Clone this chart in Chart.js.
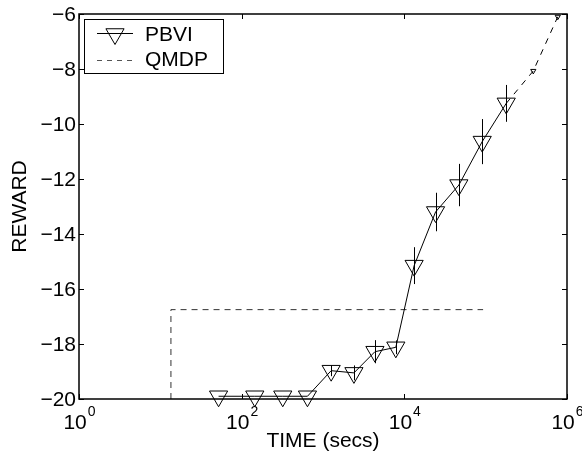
<!DOCTYPE html>
<html>
<head>
<meta charset="utf-8">
<title>PBVI vs QMDP reward</title>
<script src="https://cdn.jsdelivr.net/npm/chart.js@4.4.6/dist/chart.umd.min.js"></script>
<style>
    html, body { margin: 0; padding: 0; background: #fff; }
    #wrap { width: 582px; height: 455px; }
</style>
</head>
<body>
<div id="wrap"><canvas id="myChart"></canvas></div>
<script>
// PBVI (solid line, triangles, error bars)
const pbviTime = [52, 145, 320, 644, 1260, 2400, 4350, 7860, 13200, 24200, 46800, 90700, 179000]
const pbviReward = [-19.9, -19.9, -19.9, -19.9, -18.97, -19.05, -18.28, -18.12, -15.15, -13.2, -12.22, -10.64, -9.25]
const pbviErr = [0, 0, 0, 0, 0.2, 0.27, 0.42, 0.25, 0.67, 0.7, 0.77, 0.82, 0.67]
// dashed continuation of PBVI (small markers)
const pbviExtTime = [179000, 385000, 770000]
const pbviExtReward = [-9.25, -8.07, -6.1]
// QMDP (dashed)
const qmdpTime = [13.5, 13.5, 93000]
const qmdpReward = [-20, -16.75, -16.75]

const xTicks = [1, 100, 10000, 1000000]
const yTicks = [-20, -18, -16, -14, -12, -10, -8, -6]
const legendLabels = ["PBVI", "QMDP"]

const FONT = "'Liberation Sans', Arial, Helvetica, sans-serif"

const toPoints = (xs, ys) => xs.map((x, i) => ({ x: x, y: ys[i] }))

const errorBars = {
    id: "errorBars",
    afterDatasetsDraw(chart) {
        const { ctx, scales: { x, y } } = chart
        ctx.save()
        ctx.strokeStyle = "#000"
        ctx.lineWidth = 1
        pbviTime.forEach((t, i) => {
            if (!pbviErr[i]) return
            const px = Math.round(x.getPixelForValue(t)) + 0.5
            ctx.beginPath()
            ctx.moveTo(px, y.getPixelForValue(pbviReward[i] + pbviErr[i]))
            ctx.lineTo(px, y.getPixelForValue(pbviReward[i] - pbviErr[i]))
            ctx.stroke()
        })
        ctx.restore()
    },
}

const frame = {
    id: "frame",
    afterDraw(chart) {
        const { ctx, chartArea: a, scales: { x, y } } = chart
        ctx.save()
        ctx.strokeStyle = "#000"
        ctx.lineWidth = 1.5
        ctx.strokeRect(a.left, a.top, a.right - a.left, a.bottom - a.top)
        ctx.lineWidth = 1
        const tl = 5
        xTicks.forEach(v => {
            const px = Math.round(x.getPixelForValue(v)) + 0.5
            ctx.beginPath()
            ctx.moveTo(px, a.bottom); ctx.lineTo(px, a.bottom - tl)
            ctx.moveTo(px, a.top); ctx.lineTo(px, a.top + tl)
            ctx.stroke()
        })
        yTicks.forEach(v => {
            const py = Math.round(y.getPixelForValue(v)) + 0.5
            ctx.beginPath()
            ctx.moveTo(a.left, py); ctx.lineTo(a.left + tl, py)
            ctx.moveTo(a.right, py); ctx.lineTo(a.right - tl, py)
            ctx.stroke()
        })

        ctx.fillStyle = "#000"
        // y tick labels, right-aligned against the axis
        ctx.font = "21px " + FONT
        ctx.textAlign = "right"
        ctx.textBaseline = "middle"
        yTicks.forEach(v => {
            ctx.fillText(String(v).replace("-", "\u2212"), a.left - 3, y.getPixelForValue(v) + 1)
        })

        // x tick labels as 10 with a raised exponent
        ctx.textAlign = "left"
        ctx.textBaseline = "alphabetic"
        xTicks.forEach(v => {
            const px = x.getPixelForValue(v)
            const exp = String(Math.round(Math.log10(v)))
            ctx.font = "21px " + FONT
            const wb = ctx.measureText("10").width
            ctx.font = "14px " + FONT
            const we = ctx.measureText(exp).width
            const x0 = px - (wb + we) / 2
            ctx.font = "21px " + FONT
            ctx.fillText("10", x0, a.bottom + 30)
            ctx.font = "14px " + FONT
            ctx.fillText(exp, x0 + wb + 1, a.bottom + 17)
        })

        // legend box
        const bx = 84.5, by = 19.5, bw = 139, bh = 54
        ctx.fillStyle = "#fff"
        ctx.fillRect(bx, by, bw, bh)
        ctx.strokeRect(bx, by, bw, bh)
        ctx.beginPath()
        ctx.moveTo(97, 33.5); ctx.lineTo(133, 33.5)
        ctx.stroke()
        ctx.fillStyle = "rgba(0,0,0,0)"
        Chart.helpers.drawPoint(ctx, { pointStyle: "triangle", rotation: 180, radius: 10.5, borderWidth: 1 }, 115, 34)
        ctx.setLineDash([5, 5])
        ctx.strokeStyle = "#555"
        ctx.beginPath()
        ctx.moveTo(97, 60.5); ctx.lineTo(133, 60.5)
        ctx.stroke()
        ctx.setLineDash([])
        ctx.fillStyle = "#000"
        ctx.font = "21px " + FONT
        ctx.textBaseline = "middle"
        ctx.textAlign = "left"
        ctx.fillText(legendLabels[0], 145, 35)
        ctx.fillText(legendLabels[1], 145, 60)
        ctx.restore()
    },
}

const config = {
    type: "line",
    data: {
        datasets: [{
            label: legendLabels[0],
            data: toPoints(pbviTime, pbviReward),
            borderColor: "#000",
            borderWidth: 1,
            pointStyle: "triangle",
            rotation: 180,
            pointRadius: 10.5,
            pointBorderWidth: 1,
            pointBorderColor: "#000",
            pointBackgroundColor: "rgba(0,0,0,0)",
            tension: 0,
            clip: false,
        }, {
            label: "PBVI ext",
            data: toPoints(pbviExtTime, pbviExtReward),
            borderColor: "#000",
            borderWidth: 1,
            borderDash: [6, 6],
            pointStyle: "triangle",
            rotation: 180,
            pointRadius: [0, 3, 3],
            pointBorderWidth: 1,
            pointBorderColor: "#000",
            pointBackgroundColor: "rgba(0,0,0,0)",
            clip: false,
        }, {
            label: legendLabels[1],
            data: toPoints(qmdpTime, qmdpReward),
            borderColor: "#333",
            borderWidth: 1,
            borderDash: [6, 5],
            pointRadius: 0,
        }],
    },
    options: {
        responsive: true,
        maintainAspectRatio: false,
        animation: false,
        layout: { padding: { left: 0, right: 15, top: 14, bottom: 0 } },
        plugins: {
            legend: { display: false },
            tooltip: { enabled: false },
        },
        scales: {
            x: {
                type: "logarithmic",
                min: 1,
                max: 1000000,
                afterBuildTicks: s => { s.ticks = xTicks.map(v => ({ value: v })) },
                afterFit: s => { s.height = 56; s.paddingLeft = 0; s.paddingRight = 0 },
                grid: { display: false, drawTicks: false },
                border: { display: false },
                ticks: { display: false },
                title: {
                    display: true,
                    text: "TIME (secs)",
                    color: "#000",
                    font: { family: FONT, size: 21 },
                    padding: { top: 0, bottom: 1 },
                },
            },
            y: {
                type: "linear",
                min: -20,
                max: -6,
                afterBuildTicks: s => { s.ticks = yTicks.map(v => ({ value: v })) },
                afterFit: s => { s.width = 79; s.paddingTop = 0; s.paddingBottom = 0 },
                grid: { display: false, drawTicks: false },
                border: { display: false },
                ticks: { display: false },
                title: {
                    display: true,
                    text: "REWARD",
                    color: "#000",
                    font: { family: FONT, size: 21 },
                    padding: { top: 8, bottom: 0 },
                },
            },
        },
    },
    plugins: [errorBars, frame],
}

new Chart(document.getElementById("myChart"), config)
</script>
</body>
</html>
